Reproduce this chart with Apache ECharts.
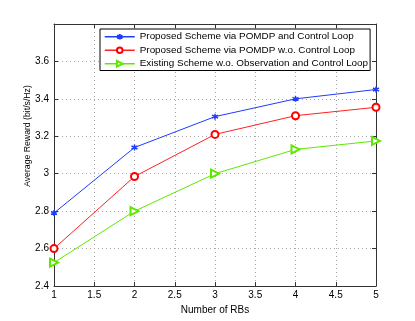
<!DOCTYPE html>
<html><head><meta charset="utf-8">
<script src="https://cdn.jsdelivr.net/npm/echarts@6/dist/echarts.min.js"></script>
<style>html,body{margin:0;padding:0;background:#fff}#c{width:415px;height:321px}</style>
</head><body><div id="c"></div>
<script>
const rbs = [1, 2, 3, 4, 5];
const seriesNames = [
  'Proposed Scheme via POMDP and Control Loop',
  'Proposed Scheme via POMDP w.o. Control Loop',
  'Existing Scheme w.o. Observation and Control Loop'
];
const pomdpLoop = [2.79, 3.14, 3.305, 3.40, 3.45];
const pomdpNoLoop = [2.60, 2.985, 3.21, 3.31, 3.355];
const existing = [2.525, 2.80, 3.00, 3.13, 3.175];
const yTicks = ['2.4','2.6','2.8','3','3.2','3.4','3.6'];

const font = 'Liberation Sans, Arial, sans-serif';
const pair = a => a.map((v,i)=>[rbs[i], v]);
const gridLine = {show:true, lineStyle:{color:'#a8a8a8', type:[1,3], width:1}};
const axLine = {show:true, onZero:false, lineStyle:{color:'#333', width:1}};
const tick = {show:true, inside:true, length:4, lineStyle:{color:'#333'}};

const chart = echarts.init(document.getElementById('c'), null, {renderer:'canvas'});
chart.setOption({
  animation:false,
  backgroundColor:'#fff',
  textStyle:{fontFamily:font},
  grid:{left:54, right:39, top:24, bottom:35, containLabel:false},
  legend:{
    orient:'vertical', left:100, top:29, itemWidth:30, itemHeight:7, itemGap:2,
    padding:[2,2,1,4], borderColor:'#000', borderWidth:1, backgroundColor:'#fff',
    textStyle:{fontSize:9.9, color:'#000', fontFamily:font, lineHeight:11.5},
    lineStyle:{width:1.5},
    data:seriesNames
  },
  xAxis:[
    {type:'value', min:1, max:5, interval:0.5, position:'bottom',
     name:'Number of RBs', nameLocation:'middle', nameGap:19, nameMoveOverlap:false,
     nameTextStyle:{fontSize:10, color:'#000'},
     axisLine:axLine, axisTick:tick, splitLine:gridLine,
     axisLabel:{fontSize:10, color:'#000', margin:4, formatter:v=>String(v)}},
    {type:'value', min:1, max:5, interval:0.5, position:'top',
     axisLine:axLine, axisTick:tick, splitLine:{show:false}, axisLabel:{show:false}}
  ],
  yAxis:[
    {type:'value', min:2.4, max:3.8, interval:0.2, position:'left',
     name:'Average Reward (bit/s/Hz)', nameLocation:'middle', nameGap:22, nameMoveOverlap:false,
     nameTextStyle:{fontSize:8.7, color:'#000', padding:[0,0,0,38]},
     axisLine:axLine, axisTick:tick, splitLine:gridLine,
     axisLabel:{fontSize:10, color:'#000', margin:5,
       formatter:v=>{const s=(Math.round(v*10)/10).toString(); return yTicks.indexOf(s)>=0?s:'';}}},
    {type:'value', min:2.4, max:3.8, interval:0.2, position:'right',
     axisLine:axLine, axisTick:tick, splitLine:{show:false}, axisLabel:{show:false}}
  ],
  series:[
    {name:seriesNames[0], type:'line', data:pair(pomdpLoop),
     symbol:'path://M0,-5L0,5M-4.33,-2.5L4.33,2.5M-4.33,2.5L4.33,-2.5', symbolSize:6,
     color:'#1f3bff', lineStyle:{color:'#1f3bff', width:1},
     itemStyle:{color:'#1f3bff', borderColor:'#1f3bff', borderWidth:1.5}},
    {name:seriesNames[1], type:'line', data:pair(pomdpNoLoop),
     symbol:'emptyCircle', symbolSize:7,
     color:'#ff0000', lineStyle:{color:'#ff2020', width:1},
     itemStyle:{color:'#ff0000', borderColor:'#ff0000', borderWidth:1}},
    {name:seriesNames[2], type:'line', data:pair(existing),
     symbol:'emptyTriangle', symbolRotate:-90, symbolSize:8,
     color:'#5ee800', lineStyle:{color:'#5ee800', width:1},
     itemStyle:{color:'#5ee800', borderColor:'#5ee800', borderWidth:1}}
  ]
});
</script></body></html>
